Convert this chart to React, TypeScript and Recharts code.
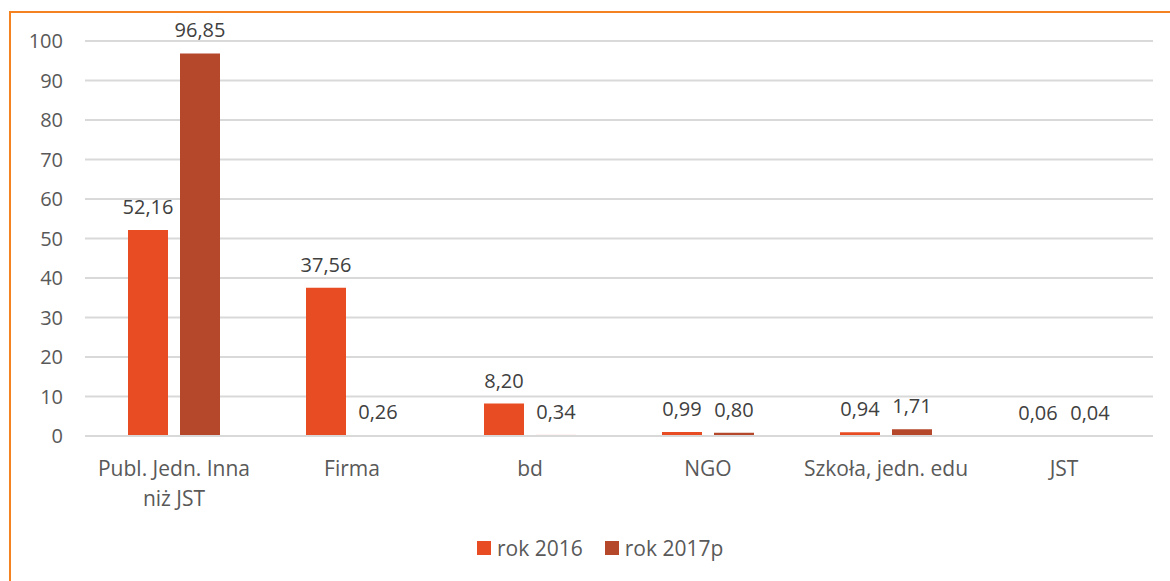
import { BarChart, Bar, XAxis, YAxis, CartesianGrid, LabelList, Cell } from 'recharts';

// kategorie i wartości
const categories = ['Publ. Jedn. Inna niż JST', 'Firma', 'bd', 'NGO', 'Szkoła, jedn. edu', 'JST'];
const rok2016 = [52.16, 37.56, 8.2, 0.99, 0.94, 0.06];
const rok2017p = [96.85, 0.26, 0.34, 0.8, 1.71, 0.04];
const yTicks = [0, 10, 20, 30, 40, 50, 60, 70, 80, 90, 100];

const seriesNames = ['rok 2016', 'rok 2017p'];
const COLOR_2016 = '#E84C22';
const COLOR_2017 = '#B5472A';
const COLOR_PALE = '#F6D3C8';
const FONT = '"Open Sans", sans-serif';
const CAT_SIZE = 21;

const data = categories.map((name, i) => ({
  name,
  r2016: rok2016[i],
  r2017: rok2017p[i],
}));

const fmt = (v: any) => Number(v).toFixed(2).replace('.', ',');

// prosty podział tekstu na linie wg szerokości
let ctx: CanvasRenderingContext2D | null = null;
const wrap = (text: string, maxWidth: number) => {
  if (!ctx) ctx = document.createElement('canvas').getContext('2d');
  ctx!.font = `${CAT_SIZE}px "Open Sans"`;
  const words = text.split(' ');
  const lines: string[] = [];
  let cur = '';
  words.forEach((w) => {
    const test = cur ? cur + ' ' + w : w;
    if (cur && ctx!.measureText(test).width > maxWidth) {
      lines.push(cur);
      cur = w;
    } else {
      cur = test;
    }
  });
  if (cur) lines.push(cur);
  return lines;
};

const CategoryTick = (props: any) => {
  const { x, y, payload } = props;
  const lines = wrap(payload.value, 172);
  return (
    <text x={x} y={y} textAnchor="middle" fill="#595959" style={{ fontFamily: FONT, fontSize: CAT_SIZE }}>
      {lines.map((l, i) => (
        <tspan key={i} x={x} dy={i === 0 ? 32 : 30}>
          {l}
        </tspan>
      ))}
    </text>
  );
};

export default function App() {
  return (
    <div style={{ position: 'absolute', left: 0, top: 0, width: 1170, height: 581, background: '#fff', overflow: 'hidden' }}>
      <div
        style={{
          position: 'absolute',
          left: 9,
          top: 11,
          width: 1200,
          height: 600,
          borderTop: '2px solid #F58220',
          borderLeft: '2px solid #F58220',
        }}
      />
      <div style={{ position: 'absolute', left: 0, top: 0 }}>
        <BarChart
          width={1170}
          height={581}
          data={data}
          margin={{ top: 41, right: 17, left: 0, bottom: 65 }}
          barSize={40}
          barGap={12}
        >
          <CartesianGrid vertical={false} stroke="#D9D9D9" strokeWidth={2} />
          <XAxis
            dataKey="name"
            height={80}
            axisLine={{ stroke: '#D9D9D9', strokeWidth: 2 }}
            tickLine={false}
            interval={0}
            tick={<CategoryTick />}
          />
          <YAxis
            width={85}
            domain={[0, 100]}
            ticks={yTicks}
            axisLine={false}
            tickLine={false}
            tickMargin={16}
            tick={{ fill: '#595959', fontSize: 20, fontFamily: FONT }}
          />
          <Bar dataKey="r2016" name={seriesNames[0]} fill={COLOR_2016} isAnimationActive={false}>
            <LabelList
              dataKey="r2016"
              position="top"
              offset={16}
              formatter={fmt}
              style={{ fill: '#404040', fontSize: 20, fontFamily: FONT }}
            />
          </Bar>
          <Bar dataKey="r2017" name={seriesNames[1]} fill={COLOR_2017} isAnimationActive={false}>
            {data.map((d, i) => (
              <Cell key={i} fill={d.name === 'bd' ? COLOR_PALE : COLOR_2017} />
            ))}
            <LabelList
              dataKey="r2017"
              position="top"
              offset={16}
              formatter={fmt}
              style={{ fill: '#404040', fontSize: 20, fontFamily: FONT }}
            />
          </Bar>
        </BarChart>
      </div>
      <div
        style={{
          position: 'absolute',
          top: 534,
          left: 477,
          display: 'flex',
          alignItems: 'center',
          fontFamily: FONT,
          fontSize: CAT_SIZE,
          color: '#595959',
        }}
      >
        {seriesNames.map((n, i) => (
          <div key={n} style={{ display: 'flex', alignItems: 'center', marginRight: i === 0 ? 22 : 0 }}>
            <span style={{ width: 14, height: 14, background: i === 0 ? COLOR_2016 : COLOR_2017, marginRight: 6, display: 'inline-block' }} />
            <span>{n}</span>
          </div>
        ))}
      </div>
    </div>
  );
}
